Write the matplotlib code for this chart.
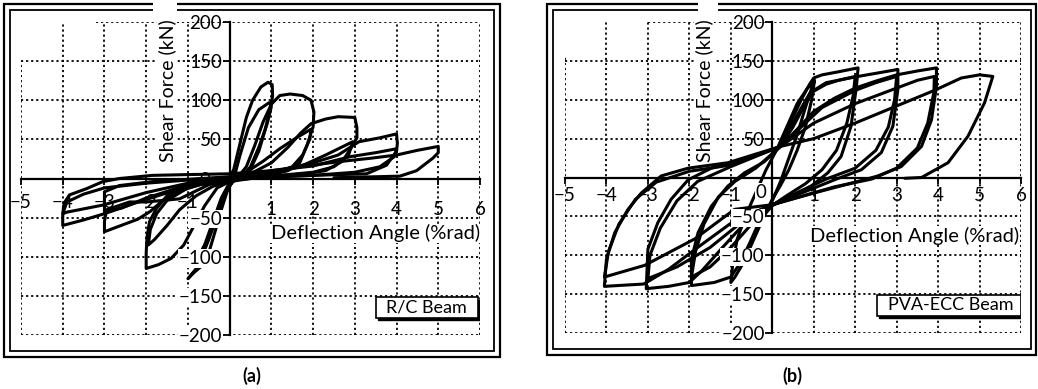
import matplotlib
matplotlib.use('Agg')
import matplotlib.pyplot as plt
from matplotlib.patches import Rectangle
from matplotlib.transforms import ScaledTranslation

plt.rcParams['font.family'] = ['Lato', 'DejaVu Sans']

# axis ticks shared by both panels
x_ticks = [-5, -4, -3, -2, -1, 1, 2, 3, 4, 5, 6]
y_ticks = [-200, -150, -100, -50, 50, 100, 150, 200]
y_labels = ['\u2212200', '\u2212150', '\u2212100', '\u221250', '50', '100', '150', '200']

# (a) R/C beam: hysteresis loops, (deflection %rad, shear kN)
rc_loop1 = [(0.0, 0), (0.1, 12), (0.25, 45), (0.4, 78), (0.55, 100), (0.75, 117), (0.92, 123),
            (1.02, 120), (1.03, 105), (0.98, 92), (0.85, 62), (0.7, 35), (0.5, 12), (0.3, 2),
            (0.1, -3), (-0.05, -12), (-0.2, -32), (-0.35, -55), (-0.5, -78), (-0.65, -98),
            (-0.8, -115), (-0.95, -125), (-1.0, -128), (-0.85, -120), (-0.65, -111), (-0.5, -95),
            (-0.35, -68), (-0.2, -40), (-0.05, -15), (0.1, 0)]
rc_loop1b = [(0.1, 0), (0.25, 30), (0.45, 65), (0.7, 88), (0.95, 97), (1.0, 92), (0.9, 70),
             (0.7, 40), (0.5, 15), (0.3, 3), (0.05, -5), (-0.15, -25), (-0.35, -55), (-0.55, -82),
             (-0.75, -100), (-0.6, -85), (-0.4, -55), (-0.2, -25), (0.0, -5), (0.2, 2)]
rc_loop2 = [(0.2, 2), (0.4, 15), (0.6, 42), (0.8, 72), (1.0, 95), (1.2, 106), (1.45, 108),
            (1.75, 106), (1.95, 100), (2.02, 85), (2.0, 66), (1.85, 42), (1.68, 20), (1.4, 10),
            (1.0, 5), (0.5, 0), (0.0, -4), (-0.3, -12), (-0.6, -35), (-0.85, -60), (-1.1, -85),
            (-1.4, -102), (-1.7, -110), (-2.0, -115), (-2.0, -95), (-1.98, -75), (-1.92, -55),
            (-1.75, -38), (-1.5, -22), (-1.0, -10), (-0.5, -4), (0.0, 0)]
rc_loop2b = [(0.0, 0), (0.4, 8), (0.8, 22), (1.2, 38), (1.6, 52), (1.95, 63), (1.92, 50),
             (1.75, 30), (1.5, 15), (1.0, 6), (0.4, 0), (0.0, -3), (-0.4, -10), (-0.8, -22),
             (-1.2, -40), (-1.5, -60), (-1.8, -78), (-1.95, -85), (-1.9, -65), (-1.75, -45),
             (-1.5, -28), (-1.0, -12), (-0.5, -5), (0.0, 0)]
rc_loop3 = [(0.0, 0), (0.5, 6), (1.0, 20), (1.4, 40), (1.7, 58), (1.95, 70), (2.3, 76),
            (2.6, 79), (3.0, 78), (3.05, 65), (3.05, 52), (2.9, 38), (2.7, 22), (2.3, 10),
            (1.8, 6), (1.0, 3), (0.0, -2), (-0.6, -6), (-1.2, -16), (-1.6, -28), (-1.9, -42),
            (-2.2, -52), (-2.6, -60), (-3.0, -68), (-3.0, -55), (-2.95, -40), (-2.4, -30),
            (-2.0, -30), (-1.2, -26), (-0.5, -8), (0.2, 2)]
rc_loop3b = [(0.2, 2), (1.0, 10), (1.68, 15), (2.3, 30), (2.95, 47), (2.85, 30), (2.5, 15),
             (2.0, 8), (1.0, 3), (0.0, -1), (-1.0, -8), (-2.0, -25), (-2.6, -38), (-3.0, -42),
             (-3.0, -17), (-2.64, -9), (-1.85, -4), (-1.0, -1), (0.0, 2)]
rc_loop4 = [(0.0, 0), (1.0, 8), (2.0, 20), (2.6, 30), (3.1, 47), (3.6, 52), (4.0, 57),
            (4.02, 45), (4.0, 35), (3.76, 17), (3.28, 6), (2.0, 4), (1.0, 2), (0.0, -2),
            (-0.8, -8), (-1.6, -20), (-2.3, -32), (-3.0, -45), (-3.5, -53), (-4.0, -60),
            (-4.0, -48), (-3.98, -35), (-3.84, -21), (-3.43, -13), (-3.04, -4), (-2.64, 0),
            (-1.85, 4), (-1.0, 5), (0.0, 6)]
rc_loop4b = [(0.0, 6), (1.0, 10), (2.0, 16), (2.9, 28), (3.5, 33), (4.0, 38), (3.95, 28),
             (3.6, 15), (3.0, 8), (2.0, 4), (0.0, 0), (-1.0, -6), (-2.0, -18), (-3.04, -34),
             (-3.9, -43), (-4.0, -45), (-3.9, -30), (-3.5, -20), (-3.0, -12), (-2.0, -6),
             (-1.0, -2), (0.0, 2)]
rc_loop5 = [(0.0, 2), (1.0, 6), (1.68, 15), (2.7, 22), (3.4, 26), (4.0, 30), (4.5, 36),
            (5.0, 41), (5.0, 33), (4.87, 26), (4.48, 10), (4.08, 3), (3.3, 2), (2.5, 1)]
rc_loops = [rc_loop1, rc_loop1b, rc_loop2, rc_loop2b, rc_loop3, rc_loop3b,
            rc_loop4, rc_loop4b, rc_loop5]

# (b) PVA-ECC beam
pva_loop1 = [(0.0, -30), (0.2, -5), (0.4, 25), (0.6, 55), (0.8, 90), (0.95, 115), (1.02, 125),
             (0.95, 100), (0.8, 65), (0.6, 35), (0.4, 10), (0.2, -10), (0.0, -28), (-0.2, -50),
             (-0.45, -80), (-0.7, -110), (-0.9, -128), (-1.0, -135), (-0.95, -110), (-0.85, -80),
             (-0.65, -50), (-0.4, -20), (-0.15, 10), (0.1, 35), (0.35, 65), (0.6, 95),
             (0.85, 115), (1.0, 122)]
pva_loop2 = [(0.2, 40), (0.45, 72), (0.7, 100), (0.9, 120), (1.0, 128), (1.2, 132), (1.6, 136),
             (2.07, 141), (2.03, 117), (1.9, 66), (1.66, 27), (1.34, 6), (0.94, -11), (0.5, -24),
             (0.0, -36), (-0.3, -55), (-0.55, -85), (-0.8, -112), (-1.0, -128), (-1.4, -135),
             (-1.95, -139), (-1.95, -105), (-1.79, -71), (-1.47, -37), (-1.07, -11), (-0.67, 6),
             (-0.2, 20), (0.2, 40)]
pva_loop2b = [(0.2, 40), (0.6, 80), (0.9, 108), (1.3, 120), (1.6, 125), (2.0, 130), (1.95, 105),
              (1.8, 70), (1.55, 35), (1.2, 10), (0.8, -8), (0.3, -25), (0.0, -36), (-0.5, -60),
              (-1.0, -90), (-1.5, -115), (-1.95, -128), (-1.85, -95), (-1.65, -60), (-1.3, -25),
              (-0.9, -5), (-0.4, 12), (0.2, 40)]
pva_loop3 = [(0.2, 40), (0.5, 65), (0.8, 95), (1.0, 112), (1.3, 122), (2.07, 130), (2.5, 134),
             (3.03, 139), (3.03, 113), (2.91, 66), (2.63, 32), (2.15, 10), (1.5, -3), (0.8, -18),
             (0.0, -35), (-0.6, -55), (-1.2, -90), (-1.7, -120), (-2.0, -135), (-2.5, -140),
             (-3.04, -143), (-3.0, -92), (-2.76, -58), (-2.44, -28), (-2.03, -3), (-1.47, 12),
             (-0.7, 22), (0.2, 40)]
pva_loop3b = [(0.2, 40), (0.7, 65), (1.2, 90), (2.0, 112), (2.5, 122), (3.0, 130), (2.95, 100),
              (2.8, 65), (2.5, 35), (2.0, 12), (1.3, -2), (0.5, -22), (0.0, -35), (-0.8, -60),
              (-1.5, -90), (-2.3, -115), (-3.0, -130), (-2.95, -100), (-2.7, -65), (-2.3, -30),
              (-1.8, -5), (-1.0, 14), (0.2, 40)]
pva_loop4 = [(0.2, 40), (0.6, 62), (1.0, 85), (1.5, 102), (2.0, 115), (2.5, 124), (3.0, 132),
             (3.5, 137), (3.96, 141), (3.96, 117), (3.84, 74), (3.6, 40), (3.11, 14), (2.55, 2),
             (2.07, -5), (1.0, -20), (0.0, -35), (-0.9, -55), (-1.8, -90), (-2.5, -118),
             (-3.1, -137), (-4.05, -140), (-4.0, -105), (-3.8, -71), (-3.48, -41), (-3.16, -20),
             (-2.68, 2), (-2.03, 12), (-1.07, 19), (0.2, 40)]
pva_loop4b = [(0.2, 40), (1.0, 70), (2.0, 95), (3.0, 115), (3.5, 125), (3.91, 130), (3.9, 110),
              (3.75, 70), (3.5, 38), (3.0, 12), (2.4, -2), (1.5, -12), (0.0, -35), (-0.91, -41),
              (-1.87, -79), (-3.08, -113), (-4.05, -128), (-3.95, -95), (-3.7, -60), (-3.3, -28),
              (-2.8, -6), (-2.0, 8), (-1.0, 16), (0.2, 40)]
pva_loop5 = [(0.2, 40), (1.0, 50), (2.0, 70), (3.0, 92), (3.91, 112), (4.56, 128),
             (5.0, 132), (5.32, 130), (5.12, 96), (4.72, 53), (4.24, 19), (3.6, 0), (3.2, -1)]
pva_loops = [pva_loop1, pva_loop2, pva_loop2b, pva_loop3, pva_loop3b,
             pva_loop4, pva_loop4b, pva_loop5]

W, H = 1038, 389
fig = plt.figure(figsize=(W / 100, H / 100), dpi=100)


def px_rect(x0, y0, x1, y1):
    # pixel box -> figure fraction (left, bottom, width, height)
    return (x0 / W, 1 - y1 / H, (x1 - x0) / W, (y1 - y0) / H)


def frame(outer, inner, gap):
    l, b, w, h = px_rect(*outer)
    fig.add_artist(Rectangle((l, b), w, h, transform=fig.transFigure, fill=False, lw=1.6, ec='black'))
    l, b, w, h = px_rect(*inner)
    fig.add_artist(Rectangle((l, b), w, h, transform=fig.transFigure, fill=False, lw=1.3, ec='black'))
    # the white gap in the top border
    l, b, w, h = px_rect(gap[0], outer[1] - 2, gap[1], inner[1] + 2)
    fig.add_artist(Rectangle((l, b), w, h, transform=fig.transFigure, fc='white', ec='none'))


def panel(box, loops, top_from, left_to, xpad, neg_lift, zero_xy, zero_bg, ylab_xy, xlab_xy,
          tag, tag_box):
    ax = fig.add_axes(px_rect(*box))
    ax.set_xlim(-5, 6)
    ax.set_ylim(-200, 200)
    ax.set_axisbelow(False)
    for s in ['top', 'right']:
        ax.spines[s].set_visible(False)
    ax.spines['left'].set_position(('data', 0))
    ax.spines['bottom'].set_position(('data', 0))
    ax.spines['left'].set_linewidth(1.6)
    ax.spines['bottom'].set_linewidth(1.6)

    # dotted grid
    dot = dict(color='black', lw=1.3, ls=(0, (1.2, 1.6)), zorder=1)
    for x in range(-5, 7):
        ax.plot([x, x], [-200, left_to if x == -5 else 200], **dot)
    for y in range(-200, 201, 50):
        ax.plot([top_from if y == 200 else -5, 6], [y, y], **dot)

    for loop in loops:
        xs = [p[0] for p in loop]
        ys = [p[1] for p in loop]
        ax.plot(xs, ys, color='black', lw=2.2, solid_joinstyle='round',
                solid_capstyle='round', zorder=2)

    ax.set_xticks(x_ticks)
    ax.set_xticklabels(['\u2212' + str(-v) if v < 0 else str(v) for v in x_ticks])
    ax.set_yticks(y_ticks)
    ax.set_yticklabels(y_labels)
    ax.tick_params(axis='x', direction='out', length=4, width=1.3, pad=xpad, labelsize=13.5)
    ax.tick_params(axis='y', direction='out', length=5, width=1.3, pad=0.5, labelsize=13.5)
    for lab in ax.get_yticklabels():
        if lab.get_text().startswith('\u2212'):
            lab.set_bbox(dict(fc='white', ec='none', pad=0.5))
    lift = ScaledTranslation(0, neg_lift / 100, fig.dpi_scale_trans)
    for lab in ax.get_xticklabels():
        if lab.get_text().startswith('\u2212'):
            lab.set_transform(lab.get_transform() + lift)

    zb = dict(fc='white', ec='none', pad=0.5) if zero_bg else None
    ax.text(zero_xy[0], zero_xy[1], '0', ha='center', va='center', fontsize=13.5, bbox=zb, zorder=4)
    ax.text(ylab_xy[0], ylab_xy[1], 'Shear Force (kN)', rotation=90, ha='center', va='center',
            fontsize=14, bbox=dict(fc='white', ec='none', pad=0.5), zorder=4)
    ax.text(xlab_xy[0], xlab_xy[1], 'Deflection Angle (%rad)', ha='right', va='center',
            fontsize=14.5, bbox=dict(fc='white', ec='none', pad=0.5), zorder=4)

    x0, x1, y0, y1 = tag_box
    ax.add_patch(Rectangle((x0 + 0.05, y0 - 3), x1 - x0, y1 - y0, fc='black', ec='black', lw=1, zorder=4))
    ax.add_patch(Rectangle((x0, y0), x1 - x0, y1 - y0, fc='white', ec='black', lw=1.2, zorder=5))
    ax.text(x0 + 0.25, (y0 + y1) / 2, tag, ha='left', va='center', fontsize=13, zorder=6)
    return ax


# (a)
frame((4, 4, 500, 357), (10, 10, 494, 351), (153, 177))
panel((21, 22, 480, 335), rc_loops, -3.2, 150, 12, 7, (-0.6, -3), False,
      (-1.5, 112), (6.0, -70), 'R/C Beam', (3.5, 5.95, -178, -152))
fig.text(252 / W, 1 - 376 / H, '(a)', ha='center', va='center', fontsize=13, fontweight='bold')

# (b)
frame((547, 4, 1036, 355), (553, 10, 1031, 349), (698, 718))
panel((565, 22, 1021, 333), pva_loops, -3.0, 155, 3, 0, (-0.27, -19), True,
      (-1.65, 112), (5.96, -75), 'PVA-ECC Beam', (2.53, 6.0, -178, -151))
fig.text(792 / W, 1 - 376 / H, '(b)', ha='center', va='center', fontsize=13, fontweight='bold')

fig.savefig('out.png', dpi=100, facecolor='white')
